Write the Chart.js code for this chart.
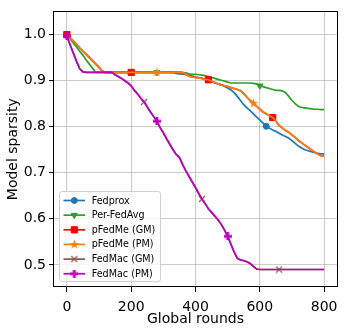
<!DOCTYPE html>
<html><head><meta charset="utf-8">
<script src="https://cdn.jsdelivr.net/npm/chart.js@4/dist/chart.umd.min.js"></script>
<style>html,body{margin:0;padding:0;background:#fff}#c{display:block}</style>
</head><body>
<canvas id="c" width="346" height="334" style="width:346px;height:334px"></canvas>
<script>
// ---------- data ----------
const rounds = [0,10,20,30,40,50,60,70,80,90,100,110,120,130,140,150,160,170,180,190,200,
  210,220,230,240,250,260,270,280,290,300,310,320,330,340,350,360,370,380,390,400,
  410,420,430,440,450,460,470,480,490,500,510,520,530,540,550,560,570,580,590,600,
  610,620,630,640,650,660,670,680,690,700,710,720,730,740,750,760,770,780,790,800];
const fedprox = [1.0,0.993,0.986,0.979,0.971,0.964,0.957,0.950,0.943,0.936,0.929,0.921,0.918,
  0.918,0.918,0.918,0.918,0.918,0.918,0.918,0.918,0.918,0.918,0.918,0.918,0.918,0.918,0.918,0.918,0.918,0.918,0.918,0.918,0.918,
  0.916,0.915,0.914,0.913,0.912,0.910,0.908,0.907,0.905,0.903,0.901,0.898,0.895,0.893,0.891,0.888,
  0.884,0.880,0.874,0.866,0.857,0.848,0.841,0.835,0.828,0.821,0.815,0.808,0.801,0.797,0.793,0.790,
  0.786,0.782,0.779,0.775,0.770,0.764,0.758,0.754,0.750,0.748,0.746,0.744,0.742,0.741,0.741];
const perFedAvg = [1.0,0.991,0.982,0.973,0.964,0.955,0.945,0.936,0.927,0.918,
  0.918,0.918,0.918,0.918,0.918,0.918,0.918,0.918,0.918,0.918,0.918,0.918,0.918,0.918,0.918,0.918,
  0.918,0.918,0.918,0.918,0.918,0.918,0.918,0.918,0.918,0.918,
  0.917,0.917,0.915,0.914,0.914,0.913,0.912,0.911,0.909,0.907,0.905,0.903,0.901,0.899,0.897,0.895,
  0.895,0.895,0.895,0.895,0.895,0.895,0.894,0.893,0.889,0.887,0.885,0.883,0.881,0.879,0.879,0.878,
  0.874,0.866,0.857,0.850,0.844,0.842,0.841,0.840,0.839,0.838,0.838,0.837,0.837];
const pFedMe = [1.0,0.993,0.986,0.979,0.971,0.964,0.957,0.950,0.943,0.936,0.929,0.921,
  0.918,0.918,0.918,0.918,0.918,0.918,0.918,0.918,0.918,0.918,0.918,0.918,0.918,0.918,0.918,0.918,
  0.918,0.918,0.918,0.918,0.918,0.918,0.918,0.918,0.918,
  0.914,0.910,0.908,0.907,0.906,0.905,0.903,0.902,0.899,0.896,0.893,0.891,0.889,0.887,0.885,0.883,
  0.881,0.878,0.872,0.864,0.857,0.851,0.845,0.838,0.832,0.828,0.824,0.820,0.812,0.803,0.797,0.792,
  0.788,0.782,0.777,0.770,0.765,0.760,0.755,0.750,0.745,0.741,0.737,0.736];
const fedMac = [0.997,0.978,0.960,0.942,0.926,0.919,0.918,0.918,0.918,0.918,0.918,0.918,0.918,0.918,0.918,
  0.913,0.909,0.905,0.900,0.895,0.889,0.879,0.871,0.862,0.854,0.843,0.832,0.822,0.812,0.798,
  0.787,0.774,0.762,0.750,0.740,0.733,0.718,0.704,0.692,0.680,0.668,0.655,0.643,0.633,0.622,
  0.614,0.606,0.598,0.588,0.576,0.562,0.545,0.528,0.514,0.511,0.509,0.507,0.503,0.497,0.491,
  0.490,0.490,0.490,0.490,0.490,0.490,0.490,0.490,0.490,0.490,0.490,0.490,0.490,0.490,0.490,
  0.490,0.490,0.490,0.490,0.490,0.490];

// rounds at which markers are drawn
const marksFedprox = [0, 620];
const marksPerFedAvg = [0, 280, 600];
const marksPFedMeGM = [0, 200, 440, 640];
const marksPFedMePM = [280, 580];
const marksFedMacGM = [240, 420, 660];
const marksFedMacPM = [0, 280, 500];

const xTicks = [0, 200, 400, 600, 800];
const yTicks = [0.5, 0.6, 0.7, 0.8, 0.9, 1.0];

// ---------- marker images ----------
function starImg(color){
  const c=document.createElement('canvas'); c.width=c.height=11;
  const g=c.getContext('2d'); g.fillStyle=color; g.beginPath();
  for(let k=0;k<10;k++){const r=k%2?2.0:5.0;const a=-Math.PI/2+k*Math.PI/5;g.lineTo(5.5+r*Math.cos(a),5.5+r*Math.sin(a));}
  g.closePath(); g.fill(); return c;
}
function plusImg(color){
  const c=document.createElement('canvas'); c.width=c.height=8;
  const g=c.getContext('2d'); g.fillStyle=color;
  g.fillRect(0,2.6,8,2.8); g.fillRect(2.6,0,2.8,8); return c;
}
function xImg(color){
  const c=document.createElement('canvas'); c.width=c.height=8;
  const g=c.getContext('2d'); g.strokeStyle=color; g.lineWidth=1.2;
  g.beginPath(); g.moveTo(1,1); g.lineTo(7,7); g.moveTo(1,7); g.lineTo(7,1); g.stroke(); return c;
}

const C = {blue:'#1f77b4', green:'#2ca02c', red:'#ff0000', orange:'#ff7f0e', brown:'#8c564b', mag:'#bf00bf'};

const series = [
  {label:'Fedprox', vals:fedprox, marks:marksFedprox, color:C.blue, style:'circle', r:3, rot:0},
  {label:'Per-FedAvg', vals:perFedAvg, marks:marksPerFedAvg, color:C.green, style:'triangle', r:3.6, rot:180},
  {label:'pFedMe (GM)', vals:pFedMe, marks:marksPFedMeGM, color:C.red, style:'rect', r:4.4, rot:0},
  {label:'pFedMe (PM)', vals:pFedMe, marks:marksPFedMePM, color:C.orange, style:starImg(C.orange), r:3, rot:0},
  {label:'FedMac (GM)', vals:fedMac, marks:marksFedMacGM, color:C.brown, style:xImg(C.brown), r:3, rot:0},
  {label:'FedMac (PM)', vals:fedMac, marks:marksFedMacPM, color:C.mag, style:plusImg(C.mag), r:3, rot:0},
];

const datasets = series.map((s,i)=>({
  label:s.label,
  data: rounds.map((x,j)=>({x:x, y:s.vals[j]})),
  borderColor:s.color, backgroundColor:s.color,
  borderWidth:1.7, tension:0, fill:false,
  pointStyle:s.style, pointRotation:s.rot,
  pointRadius: ctx => s.marks.includes(rounds[ctx.dataIndex]) ? s.r : 0,
  pointHoverRadius:0,
  pointBackgroundColor:s.color, pointBorderColor:s.color, pointBorderWidth:1,
  order: series.length - i,
}));

const FONT = 'DejaVu Sans';

function drawMarker(ctx, s, x, y){
  ctx.save();
  ctx.fillStyle = s.color; ctx.strokeStyle = s.color; ctx.lineWidth = 1;
  if (typeof s.style !== 'string'){
    ctx.drawImage(s.style, x - s.style.width/2, y - s.style.height/2);
  } else if (s.style==='circle'){
    ctx.beginPath(); ctx.arc(x,y,s.r,0,Math.PI*2); ctx.fill(); ctx.stroke();
  } else if (s.style==='rect'){
    const h = s.r*Math.SQRT1_2; ctx.beginPath(); ctx.rect(x-h,y-h,2*h,2*h); ctx.fill(); ctx.stroke();
  } else if (s.style==='triangle'){
    let a = s.rot*Math.PI/180; ctx.beginPath();
    for(let k=0;k<3;k++){ ctx.lineTo(x+Math.sin(a)*s.r, y-Math.cos(a)*s.r); a += 2*Math.PI/3; }
    ctx.closePath(); ctx.fill(); ctx.stroke();
  }
  ctx.restore();
}

const framePlugin = {
  id:'frame',
  afterDatasetsDraw(chart){
    const {ctx, chartArea:a} = chart;
    ctx.save(); ctx.strokeStyle='#000'; ctx.lineWidth=1;
    ctx.strokeRect(Math.round(a.left)-0.5, Math.round(a.top)+0.5, Math.round(a.right-a.left)+1, Math.round(a.bottom-a.top)-1);
    ctx.restore();
  },
  afterDraw(chart){
    const ctx = chart.ctx;
    const bx=59.5, by=191.5, bw=101, bh=90, rad=2.5;
    ctx.save();
    ctx.beginPath();
    ctx.moveTo(bx+rad,by); ctx.lineTo(bx+bw-rad,by); ctx.arcTo(bx+bw,by,bx+bw,by+rad,rad);
    ctx.lineTo(bx+bw,by+bh-rad); ctx.arcTo(bx+bw,by+bh,bx+bw-rad,by+bh,rad);
    ctx.lineTo(bx+rad,by+bh); ctx.arcTo(bx,by+bh,bx,by+bh-rad,rad);
    ctx.lineTo(bx,by+rad); ctx.arcTo(bx,by,bx+rad,by,rad); ctx.closePath();
    ctx.fillStyle='rgba(255,255,255,0.85)'; ctx.fill();
    ctx.strokeStyle='#d0d0d0'; ctx.lineWidth=1; ctx.stroke();
    ctx.font = '9.6px "'+FONT+'"'; ctx.textBaseline='middle'; ctx.textAlign='left';
    series.forEach((s,i)=>{
      const y = 200.5 + i*14.65;
      ctx.strokeStyle=s.color; ctx.lineWidth=1.7;
      ctx.beginPath(); ctx.moveTo(63.5,y); ctx.lineTo(85,y); ctx.stroke();
      drawMarker(ctx, s, 74.3, y);
      ctx.fillStyle='#000'; ctx.fillText(s.label, 91.7, y+0.5);
    });
    ctx.restore();
  }
};

new Chart(document.getElementById('c'), {
  type:'line',
  data:{datasets},
  plugins:[framePlugin],
  options:{
    responsive:false, animation:false, maintainAspectRatio:false, devicePixelRatio:1,
    layout:{padding:{top:7, right:9, left:0, bottom:0}},
    plugins:{legend:{display:false}, tooltip:{enabled:false}},
    scales:{
      x:{type:'linear', min:-40, max:840,
        afterFit: s => { s.height = 47; },
        afterBuildTicks: s => { s.ticks = xTicks.map(v=>({value:v})); },
        grid:{color:'rgba(176,176,176,0.65)', lineWidth:1.1, tickLength:5, tickColor:'#000', tickWidth:1},
        border:{display:false},
        ticks:{color:'#000', font:{family:FONT, size:14}, padding:7, maxRotation:0, callback:v=>String(v)},
        title:{display:true, text:'Global rounds', color:'#000', font:{family:FONT, size:14}, padding:{top:0,bottom:6}}
      },
      y:{type:'linear', min:0.452, max:1.0505,
        afterFit: s => { s.width = 54; },
        afterBuildTicks: s => { s.ticks = yTicks.map(v=>({value:v})); },
        grid:{color:'rgba(176,176,176,0.65)', lineWidth:1.1, tickLength:5, tickColor:'#000', tickWidth:1},
        border:{display:false},
        ticks:{color:'#000', font:{family:FONT, size:14}, padding:3, callback:v=>Number(v).toFixed(1)},
        title:{display:true, text:'Model sparsity', color:'#000', font:{family:FONT, size:14}, padding:{top:5,bottom:0}}
      }
    }
  }
});
</script>
</body></html>
